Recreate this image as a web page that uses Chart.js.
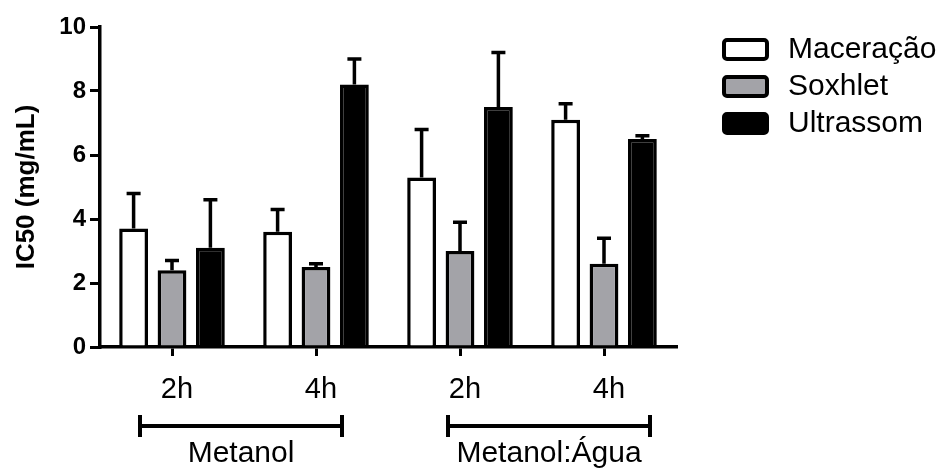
<!DOCTYPE html>
<html>
<head>
<meta charset="utf-8">
<script src="https://cdn.jsdelivr.net/npm/chart.js@4.4.0/dist/chart.umd.min.js"></script>
<style>
html, body { margin: 0; padding: 0; background: #fff; }
#wrap { width: 950px; height: 468px; position: relative; }
</style>
</head>
<body>
<div id="wrap"><canvas id="graphCanvas"></canvas></div>
<script>
// data
var categories = ['2h', '4h', '2h', '4h'];
var solvents = ['Metanol', 'Metanol:Água'];
var solventSpan = [[0, 1], [2, 3]];
var seriesNames = ['Maceração', 'Soxhlet', 'Ultrassom'];
var maceracao = [3.7, 3.6, 5.3, 7.1];
var maceracaoErr = [1.1, 0.7, 1.5, 0.5];
var soxhlet = [2.4, 2.5, 3.0, 2.6];
var soxhletErr = [0.3, 0.1, 0.9, 0.8];
var ultrassom = [3.1, 8.2, 7.5, 6.5];
var ultrassomErr = [1.5, 0.8, 1.7, 0.1];
var yMin = 0, yMax = 10, yStep = 2;

var FONT = "'Liberation Sans', Arial, sans-serif";
var fills = ['#ffffff', '#a3a3a8', '#000000'];
var errors = [maceracaoErr, soxhletErr, ultrassomErr];
var bracketNudge = [-10, 10];

// upper error bars only, like the original
var errorBars = {
    id: 'errorBars',
    afterDatasetsDraw: function (chart) {
        var ctx = chart.ctx;
        var y = chart.scales.y;
        ctx.save();
        ctx.strokeStyle = '#000';
        ctx.lineWidth = 3.5;
        chart.data.datasets.forEach(function (ds, d) {
            var meta = chart.getDatasetMeta(d);
            meta.data.forEach(function (bar, i) {
                var top = y.getPixelForValue(ds.data[i] + errors[d][i]);
                ctx.beginPath();
                ctx.moveTo(bar.x, bar.y);
                ctx.lineTo(bar.x, top);
                ctx.moveTo(bar.x - 7, top);
                ctx.lineTo(bar.x + 7, top);
                ctx.stroke();
            });
        });
        ctx.restore();
    }
};

// solvent brackets under the x labels + legend on the right
var extras = {
    id: 'extras',
    afterDraw: function (chart) {
        var ctx = chart.ctx;
        var x = chart.scales.x;
        ctx.save();
        ctx.strokeStyle = '#000';
        ctx.fillStyle = '#000';
        ctx.lineWidth = 4;
        ctx.font = '30px ' + FONT;
        ctx.textAlign = 'center';
        ctx.textBaseline = 'alphabetic';
        for (var i = 0; i < solvents.length; i++) {
            var left = x.getPixelForValue(solventSpan[i][0]) - 22 + bracketNudge[i];
            var right = x.getPixelForValue(solventSpan[i][1]) + 36 + bracketNudge[i];
            ctx.beginPath();
            ctx.moveTo(left, 426);
            ctx.lineTo(right, 426);
            ctx.moveTo(left, 415);
            ctx.lineTo(left, 437);
            ctx.moveTo(right, 415);
            ctx.lineTo(right, 437);
            ctx.stroke();
            ctx.fillText(solvents[i], (left + right) / 2, 462);
        }

        ctx.textAlign = 'left';
        ctx.textBaseline = 'middle';
        ctx.font = '30px ' + FONT;
        ctx.lineWidth = 4;
        for (var k = 0; k < seriesNames.length; k++) {
            var cy = 49 + k * 37;
            ctx.fillStyle = fills[k];
            ctx.beginPath();
            ctx.roundRect(724, cy - 9, 43, 19, 3);
            ctx.fill();
            ctx.stroke();
            ctx.fillStyle = '#000';
            ctx.fillText(seriesNames[k], 788, cy + 1);
        }
        ctx.restore();
    }
};

var datasets = [maceracao, soxhlet, ultrassom].map(function (vals, d) {
    return {
        label: seriesNames[d],
        data: vals,
        backgroundColor: fills[d],
        borderColor: '#000',
        borderWidth: 3.5,
        categoryPercentage: 0.8,
        barPercentage: 0.75
    };
});

new Chart(document.getElementById('graphCanvas'), {
    type: 'bar',
    data: { labels: categories, datasets: datasets },
    options: {
        responsive: true,
        maintainAspectRatio: false,
        animation: false,
        layout: { padding: { top: 27, right: 274, bottom: 0, left: 0 } },
        plugins: { legend: { display: false }, tooltip: { enabled: false } },
        scales: {
            x: {
                afterFit: function (s) { s.height = 121; },
                grid: { display: true, drawOnChartArea: false, offset: false, color: '#000', lineWidth: 3, tickLength: 9 },
                border: { color: '#000', width: 3.5 },
                ticks: { color: '#000', font: { family: FONT, size: 29 }, padding: 17, labelOffset: 5 }
            },
            y: {
                min: yMin,
                max: yMax,
                afterFit: function (s) { s.width = 100; },
                grid: { display: true, drawOnChartArea: false, color: '#000', lineWidth: 3, tickLength: 10 },
                border: { color: '#000', width: 3.5 },
                ticks: { stepSize: yStep, color: '#000', font: { family: FONT, size: 24, weight: 'bold' }, padding: 4 },
                title: {
                    display: true,
                    text: 'IC50 (mg/mL)',
                    color: '#000',
                    font: { family: FONT, size: 26, weight: 'bold' },
                    padding: { top: 11, bottom: 0 }
                }
            }
        }
    },
    plugins: [errorBars, extras]
});
</script>
</body>
</html>
